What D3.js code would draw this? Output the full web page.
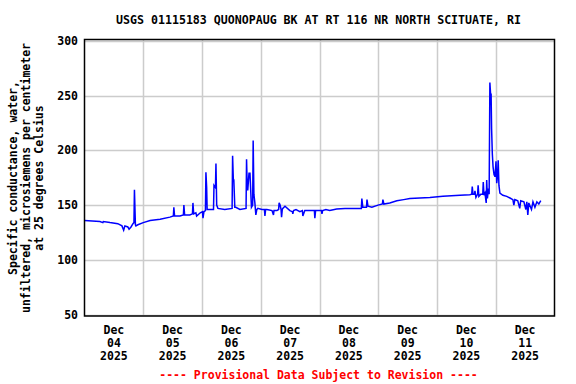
<html>
<head>
  <script src="https://d3js.org/d3.v7.min.js"></script>
  <style>
    body { margin: 0; background: #fff; }
    text { font-family: "DejaVu Sans Mono", monospace; font-weight: bold; }
  </style>
</head>
<body>
  <svg id="chart" width="576" height="384"></svg>
  <script>
    // Data: hours since Dec 04 2025 00:00, specific conductance values
    const hours = [0, 6.3, 7.5, 7.7, 10.4, 13.6, 15.3, 16, 16.5, 17.7, 18.2, 19, 19.8, 20.2, 20.4, 20.8, 21, 21.8, 24, 26.8, 30.9, 34.9,
      36.3, 36.5, 36.8, 39, 40.4, 40.6, 40.9, 43, 44.1, 44.3, 44.6, 45.5, 45.8, 47.3, 48.2, 48.4, 48.8,
      49.4, 49.6, 49.9, 50.1, 50.4, 52.7, 52.9, 53.5, 53.7, 54, 54.5, 57.3, 60.3, 60.5, 60.8, 61, 61.4, 61.8, 63.5,
      66, 66.2, 66.5, 66.7, 67.2, 67.6, 68.2, 68.7, 68.9, 69.2, 69.6, 70, 70.4, 70.8, 72.5,
      73.5, 73.7, 74, 74.5, 76.6, 77.2, 77.4, 78.6, 79.3, 79.5, 79.9, 80.3, 80.5, 80.8, 81, 81.9, 83.9, 84.9, 85.1, 85.4, 86.4, 88, 89, 89.2, 90, 92.1,
      93.9, 94.1, 94.4, 95.4, 96.8, 97, 97.3, 98.6, 100.2, 103, 106.4, 110.5, 113.1, 113.3, 113.7, 114.1, 115.2, 115.4, 115.8, 117.4,
      119.9, 121.7, 121.9, 122.3, 124.7, 127.6, 130.4, 132.9, 137, 141.1, 146.4, 153.4, 157.4,
      158.2, 158.4, 158.7, 159.3, 159.5, 159.9, 160.6, 160.8, 161.1, 161.9, 162.7, 162.9, 163.2, 163.6, 164.1, 164.3, 164.6, 165, 165.3,
      165.6, 165.9, 166.1, 166.3, 166.6, 166.9, 167.3, 167.7, 168.1, 168.4, 168.7, 169, 169.3, 169.7, 170.9, 172.5, 173.8,
      175, 175.4, 175.8, 177, 177.8, 178.2, 179.5, 180.3, 180.7, 181.1, 181.5, 182.6, 183.2, 184, 184.8, 185.6, 186.4];
    const values = [136, 135, 134, 135, 134, 133, 131, 127, 131, 130, 128, 130, 133, 134, 164, 132, 131, 132, 134, 136, 137, 139,
      140, 148, 140, 140, 141, 150, 141, 141, 142, 152, 142, 143, 140, 143, 144, 138, 144,
      145, 180, 166, 146, 146, 146, 168, 166, 188, 150, 147, 146, 147, 195, 173, 173, 148, 148, 146,
      147, 192, 164, 164, 179, 179, 148, 150, 209, 160, 152, 141, 146, 147, 146,
      146, 140, 146, 146, 145, 141, 145, 145, 146, 152, 150, 146, 139, 146, 147, 149, 145, 144, 142, 145, 146, 144, 145, 140, 145, 145,
      145, 138, 145, 145, 145, 142, 145, 146, 145, 146.5, 147, 147, 147, 156, 148, 148, 148, 155, 149, 148,
      150, 151, 155, 151, 152, 154, 155, 156, 156.5, 157, 158, 159, 159.5,
      160, 167, 160, 160, 163, 157, 160, 168, 158, 160, 160, 171, 159, 161, 152, 173, 156, 165, 160,
      262, 251, 252, 220, 197, 185, 178, 176, 190, 170, 176, 191, 168, 161, 159, 158, 156.5,
      155, 150, 155, 154, 147, 154, 153, 146, 153, 141, 152, 146, 153, 148, 153, 151, 154];
    const dayLabels = ["04", "05", "06", "07", "08", "09", "10", "11"];
    const yTicks = [50, 100, 150, 200, 250, 300];

    const svg = d3.select("#chart");
    const start = new Date(2025, 11, 4);
    const end = new Date(2025, 11, 12);
    const data = hours.map((h, i) => ({ t: new Date(start.getTime() + h * 3600e3), v: values[i] }));

    const pLeft = 84.5, pRight = 554.5, pTop = 39.5, pBottom = 316;
    const x = d3.scaleTime().domain([start, end]).range([pLeft, pRight]);
    const y = d3.scaleLinear().domain([50, 300]).range([314.5, 41]);

    // Gridlines
    const days = d3.timeDay.range(d3.timeDay.offset(start, 1), end);
    svg.append("g").selectAll("line").data(days).join("line")
      .attr("x1", d => Math.round(x(d)) + 0.5).attr("x2", d => Math.round(x(d)) + 0.5)
      .attr("y1", pTop).attr("y2", pBottom)
      .attr("stroke", "#cccccc").attr("stroke-width", 1.5);
    svg.append("g").selectAll("line").data(yTicks).join("line")
      .attr("x1", pLeft).attr("x2", pRight)
      .attr("y1", d => Math.round(y(d)) + 0.5).attr("y2", d => Math.round(y(d)) + 0.5)
      .attr("stroke", "#cccccc").attr("stroke-width", 1.5);

    // Series
    svg.append("path").datum(data)
      .attr("fill", "none").attr("stroke", "#0000ff").attr("stroke-width", 1.5)
      .attr("d", d3.line().x(d => x(d.t)).y(d => y(d.v)));

    // Frame
    svg.append("rect")
      .attr("x", pLeft).attr("y", pTop).attr("width", pRight - pLeft).attr("height", pBottom - pTop)
      .attr("fill", "none").attr("stroke", "#000").attr("stroke-width", 1.5);

    // Y tick labels
    svg.append("g").selectAll("text").data(yTicks).join("text")
      .attr("x", 78).attr("y", d => y(d) + 4)
      .attr("text-anchor", "end").attr("font-size", 11.5)
      .text(d => d);

    // X tick labels at noon of each day
    const noon = dayLabels.map((d, i) => d3.timeHour.offset(start, 24 * i + 12));
    const xl = svg.append("g").selectAll("text").data(noon).join("text")
      .attr("text-anchor", "middle").attr("font-size", 11.5)
      .attr("transform", d => `translate(${x(d)},0)`);
    xl.append("tspan").attr("x", 0).attr("y", 334).text("Dec");
    xl.append("tspan").attr("x", 0).attr("y", 347).text((d, i) => dayLabels[i]);
    xl.append("tspan").attr("x", 0).attr("y", 360).text("2025");

    // Title
    svg.append("text").attr("x", 318.5).attr("y", 24)
      .attr("text-anchor", "middle").attr("font-size", 11.6)
      .text("USGS 01115183 QUONOPAUG BK AT RT 116 NR NORTH SCITUATE, RI");

    // Y axis title
    const yTitle = ["Specific conductance, water,", "unfiltered, microsiemens per centimeter", "at 25 degrees Celsius"];
    svg.append("g").selectAll("text").data(yTitle).join("text")
      .attr("transform", (d, i) => `translate(${17 + 13 * i},178) rotate(-90)`)
      .attr("text-anchor", "middle").attr("font-size", 11.5)
      .text(d => d);

    // Provisional note
    svg.append("text").attr("x", 318.5).attr("y", 379)
      .attr("text-anchor", "middle").attr("font-size", 11.5).attr("fill", "#ff0000")
      .text("---- Provisional Data Subject to Revision ----");
  </script>
</body>
</html>
